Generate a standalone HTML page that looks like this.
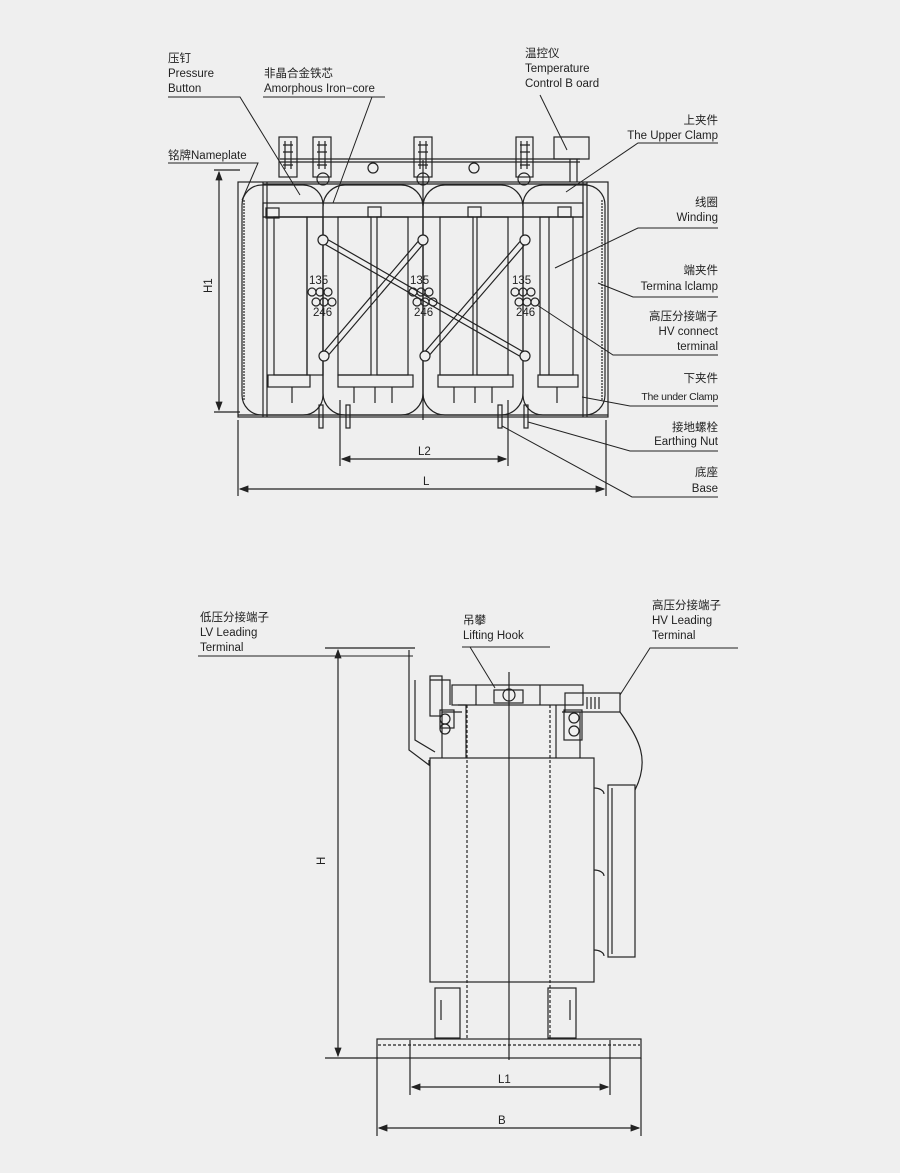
<!DOCTYPE html>
<html><head><meta charset="utf-8"><style>
html,body{margin:0;padding:0;background:#efefef;}
svg{display:block}
text{font-family:"Liberation Sans","Noto Sans CJK SC",sans-serif;font-size:11.5px;fill:#222}
</style></head><body>
<svg width="900" height="1173" viewBox="0 0 900 1173" xmlns="http://www.w3.org/2000/svg">
<defs><marker id="a" markerWidth="8" markerHeight="6" refX="7" refY="3" orient="auto"><path d="M0,0 L8,3 L0,6z" fill="#222"/></marker>
<marker id="b" markerWidth="8" markerHeight="6" refX="1" refY="3" orient="auto"><path d="M8,0 L0,3 L8,6z" fill="#222"/></marker></defs>
<rect width="900" height="1173" fill="#efefef"/>
<g stroke="#222" stroke-width="1.2" fill="none">
<!-- TOP VIEW -->
<rect x="238" y="182" width="370" height="235"/>
<line x1="238" y1="415" x2="608" y2="415"/>
<line x1="263" y1="182" x2="263" y2="417"/><line x1="267" y1="182" x2="267" y2="417"/>
<line x1="583" y1="182" x2="583" y2="417"/><line x1="587" y1="182" x2="587" y2="417"/>
<line x1="263" y1="184" x2="587" y2="184"/>
<rect x="242" y="185" width="81" height="230" rx="20"/>
<rect x="323" y="185" width="100" height="230" rx="22"/>
<rect x="423" y="185" width="100" height="230" rx="22"/>
<rect x="523" y="185" width="82" height="230" rx="20"/>
<line x1="244" y1="200" x2="244" y2="400" stroke-dasharray="2,1"/>
<line x1="602" y1="200" x2="602" y2="400" stroke-dasharray="2,1"/>
<line x1="280" y1="159" x2="580" y2="159"/><line x1="280" y1="162" x2="580" y2="162"/>
<rect x="279" y="137" width="18" height="40"/><rect x="313" y="137" width="18" height="40"/>
<rect x="414" y="137" width="18" height="40"/><rect x="516" y="137" width="17" height="40"/>
<path d="M283,145h10M283,152h10M283,165h10M317,145h10M317,152h10M317,165h10M418,145h10M418,152h10M418,165h10M520,145h10M520,152h10M520,165h10M285,141v28M291,141v28M319,141v28M325,141v28M420,141v28M426,141v28M521,141v28M527,141v28"/>
<circle cx="373" cy="168" r="5"/><circle cx="474" cy="168" r="5"/>
<circle cx="323" cy="179" r="6"/><circle cx="423" cy="179" r="6"/><circle cx="524" cy="179" r="6"/>
<rect x="554" y="137" width="35" height="22"/><path d="M570,159v23M577,159v23"/>
<rect x="263" y="203" width="320" height="14"/>
<rect x="266" y="208" width="13" height="10"/><rect x="368" y="207" width="13" height="10"/><rect x="468" y="207" width="13" height="10"/><rect x="558" y="207" width="13" height="10"/>
<path d="M263,217h320"/>
<rect x="274" y="217" width="33" height="158"/><rect x="307" y="217" width="16" height="158"/>
<rect x="338" y="217" width="33" height="158"/><rect x="377" y="217" width="31" height="158"/>
<rect x="440" y="217" width="33" height="158"/><rect x="477" y="217" width="31" height="158"/>
<rect x="540" y="217" width="33" height="158"/><line x1="549" y1="217" x2="549" y2="375"/>
<line x1="423" y1="160" x2="423" y2="420"/>
<rect x="268" y="375" width="42" height="12"/><rect x="338" y="375" width="75" height="12"/><rect x="438" y="375" width="75" height="12"/><rect x="538" y="375" width="40" height="12"/>
<path d="M292,387v16M354,387v16M375,387v16M392,387v16M454,387v16M475,387v16M492,387v16M557,387v16"/>
<rect x="319" y="405" width="4" height="23"/><rect x="346" y="405" width="4" height="23"/><rect x="498" y="405" width="4" height="23"/><rect x="524" y="405" width="4" height="23"/>
<path d="M321,242L523,358M325,238L527,354"/>
<path d="M421,238L322,354M425,242L326,358"/>
<path d="M523,238L423,354M527,242L427,358"/>
<circle cx="323" cy="240" r="5" fill="#efefef"/><circle cx="423" cy="240" r="5" fill="#efefef"/><circle cx="525" cy="240" r="5" fill="#efefef"/>
<circle cx="324" cy="356" r="5" fill="#efefef"/><circle cx="425" cy="356" r="5" fill="#efefef"/><circle cx="525" cy="356" r="5" fill="#efefef"/>
<g>
<circle cx="312" cy="292" r="4"/><circle cx="320" cy="292" r="4"/><circle cx="328" cy="292" r="4"/><circle cx="316" cy="302" r="4"/><circle cx="324" cy="302" r="4"/><circle cx="332" cy="302" r="4"/>
<circle cx="413" cy="292" r="4"/><circle cx="421" cy="292" r="4"/><circle cx="429" cy="292" r="4"/><circle cx="417" cy="302" r="4"/><circle cx="425" cy="302" r="4"/><circle cx="433" cy="302" r="4"/>
<circle cx="515" cy="292" r="4"/><circle cx="523" cy="292" r="4"/><circle cx="531" cy="292" r="4"/><circle cx="519" cy="302" r="4"/><circle cx="527" cy="302" r="4"/><circle cx="535" cy="302" r="4"/>
</g>
<path d="M214,170h26M214,412h26"/>
<line x1="219" y1="172" x2="219" y2="410" marker-start="url(#b)" marker-end="url(#a)"/>
<path d="M340,400v66M508,400v66M238,420v76M606,420v76"/>
<line x1="342" y1="459" x2="506" y2="459" marker-start="url(#b)" marker-end="url(#a)"/>
<line x1="240" y1="489" x2="604" y2="489" marker-start="url(#b)" marker-end="url(#a)"/>
<g stroke-width="1">
<path d="M168,97h72L300,195"/>
<path d="M263,97h122M372,97L333,203"/>
<path d="M168,163h90L242,200"/>
<path d="M540,95L567,150"/>
<path d="M718,143h-80L566,192"/>
<path d="M718,228h-80L555,268"/>
<path d="M718,297h-85L598,283"/>
<path d="M718,355h-105L537,305"/>
<path d="M718,406h-88L582,397"/>
<path d="M718,451h-88L528,422"/>
<path d="M718,497h-86L502,426"/>
</g>
<!-- BOTTOM VIEW -->
<rect x="377" y="1039" width="264" height="19"/>
<line x1="378" y1="1045" x2="640" y2="1045" stroke-dasharray="3,2"/>
<rect x="430" y="758" width="164" height="224"/>
<line x1="467" y1="705" x2="467" y2="1038" stroke-dasharray="3,2"/>
<line x1="550" y1="705" x2="550" y2="1038" stroke-dasharray="3,2"/>
<line x1="509" y1="672" x2="509" y2="1060"/>
<rect x="452" y="685" width="131" height="20"/>
<path d="M476,685v20M540,685v20"/>
<rect x="494" y="690" width="29" height="13"/><circle cx="509" cy="695" r="6"/>
<rect x="565" y="693" width="55" height="19"/><path d="M587,697v12M591,697v12M595,697v12M599,697v12"/>
<path d="M620,712C640,740 650,760 635,790"/>
<rect x="608" y="785" width="27" height="172"/><path d="M612,788v166"/>
<path d="M594,788a10,6 0 0 1 10,6M594,870a10,6 0 0 1 10,6M594,950a10,6 0 0 1 10,6"/>
<path d="M458,705h8v53M556,705v53M562,712h18v46M462,712h-20v46"/>
<rect x="440" y="710" width="14" height="18"/><circle cx="445" cy="719" r="5"/><circle cx="445" cy="729" r="5"/>
<rect x="564" y="710" width="18" height="30"/><circle cx="574" cy="718" r="5"/><circle cx="574" cy="731" r="5"/>
<path d="M409,650v100l20,15v-5M415,680v60l20,12M430,680h20v25"/>
<rect x="430" y="676" width="12" height="40"/>
<rect x="435" y="988" width="25" height="50"/><rect x="548" y="988" width="28" height="50"/>
<path d="M441,1000v20M570,1000v20"/>
<path d="M325,648h90M325,1058h53"/>
<line x1="338" y1="650" x2="338" y2="1056" marker-start="url(#b)" marker-end="url(#a)"/>
<path d="M410,1040v55M610,1040v55M377,1058v78M641,1058v78"/>
<line x1="412" y1="1087" x2="608" y2="1087" marker-start="url(#b)" marker-end="url(#a)"/>
<line x1="379" y1="1128" x2="639" y2="1128" marker-start="url(#b)" marker-end="url(#a)"/>
<g stroke-width="1">
<path d="M198,656h215"/>
<path d="M462,647h88M470,647L495,688"/>
<path d="M738,648h-88L620,695"/>
</g>
</g>
<text x="168" y="62">压钉</text><text x="168" y="77">Pressure</text><text x="168" y="92">Button</text>
<text x="264" y="77">非晶合金铁芯</text><text x="264" y="92">Amorphous Iron−core</text>
<text x="168" y="159">铭牌Nameplate</text>
<text x="525" y="57">温控仪</text><text x="525" y="72">Temperature</text><text x="525" y="87">Control B oard</text>
<g text-anchor="end">
<text x="718" y="124">上夹件</text><text x="718" y="139">The Upper Clamp</text>
<text x="718" y="206">线圈</text><text x="718" y="221">Winding</text>
<text x="718" y="274">端夹件</text><text x="718" y="290">Termina lclamp</text>
<text x="718" y="320">高压分接端子</text><text x="718" y="335">HV connect</text><text x="718" y="350">terminal</text>
<text x="718" y="382">下夹件</text><text x="718" y="400" style="font-size:10.5px;letter-spacing:-0.3px">The under Clamp</text>
<text x="718" y="431">接地螺栓</text><text x="718" y="445">Earthing Nut</text>
<text x="718" y="476">底座</text><text x="718" y="492">Base</text>
</g>
<text x="309" y="284">135</text><text x="313" y="316">246</text>
<text x="410" y="284">135</text><text x="414" y="316">246</text>
<text x="512" y="284">135</text><text x="516" y="316">246</text>
<text x="217" y="298" transform="rotate(-90 212 298)">H1</text>
<text x="418" y="455">L2</text>
<text x="423" y="485">L</text>
<text x="200" y="621">低压分接端子</text><text x="200" y="636">LV Leading</text><text x="200" y="651">Terminal</text>
<text x="463" y="624">吊攀</text><text x="463" y="639">Lifting Hook</text>
<text x="652" y="609">高压分接端子</text><text x="652" y="624">HV Leading</text><text x="652" y="639">Terminal</text>
<text x="330" y="870" transform="rotate(-90 325 870)">H</text>
<text x="498" y="1083">L1</text>
<text x="498" y="1124">B</text>
</svg>
</body></html>
